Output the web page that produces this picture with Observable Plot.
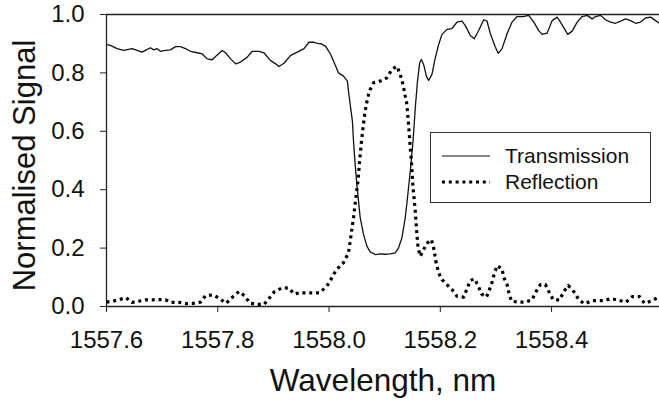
<!DOCTYPE html>
<html>
<head>
<meta charset="utf-8">
<script src="https://cdn.jsdelivr.net/npm/d3@7"></script>
<script src="https://cdn.jsdelivr.net/npm/@observablehq/plot@0.6"></script>
<style>
  html, body { margin: 0; padding: 0; background: #fff; }
  #wrap { position: relative; width: 659px; height: 406px; overflow: hidden; font-family: 'Liberation Sans', Arial, sans-serif; color: #111; }
  #legend { position: absolute; left: 430px; top: 132px; width: 221px; height: 71px; border: 1.3px solid #333; box-sizing: border-box; background: #fff; }
  #legend .row { position: absolute; left: 0; height: 24px; display: flex; align-items: center; font-size: 21px; }
  #legend svg { margin-left: 11px; margin-right: 15px; }
</style>
</head>
<body>
<div id="wrap"></div>
<script>
// Transmission curve (wavelength nm, normalised signal)
const wavelengthT = [1557.600,1557.607,1557.619,1557.631,1557.646,1557.655,1557.664,1557.670,1557.679,1557.685,1557.691,1557.697,1557.706,1557.715,1557.724,1557.733,1557.742,1557.751,1557.763,1557.772,1557.781,1557.790,1557.796,1557.808,1557.814,1557.823,1557.832,1557.841,1557.853,1557.862,1557.874,1557.883,1557.895,1557.904,1557.910,1557.919,1557.931,1557.943,1557.955,1557.964,1557.973,1557.979,1557.985,1557.994,1558.003,1558.012,1558.017,1558.026,1558.033,1558.035,1558.038,1558.042,1558.044,1558.047,1558.050,1558.053,1558.056,1558.062,1558.068,1558.074,1558.083,1558.092,1558.101,1558.110,1558.119,1558.125,1558.131,1558.137,1558.141,1558.146,1558.151,1558.155,1558.159,1558.163,1558.166,1558.170,1558.175,1558.179,1558.185,1558.191,1558.197,1558.203,1558.212,1558.221,1558.230,1558.239,1558.245,1558.254,1558.261,1558.269,1558.278,1558.284,1558.290,1558.299,1558.304,1558.311,1558.320,1558.329,1558.338,1558.349,1558.359,1558.368,1558.377,1558.383,1558.392,1558.401,1558.410,1558.416,1558.425,1558.429,1558.437,1558.446,1558.455,1558.464,1558.473,1558.479,1558.488,1558.497,1558.506,1558.515,1558.524,1558.533,1558.542,1558.551,1558.560,1558.569,1558.578,1558.587,1558.594];
const transmission = [0.897,0.894,0.883,0.877,0.883,0.877,0.871,0.877,0.886,0.879,0.883,0.874,0.877,0.879,0.890,0.890,0.883,0.874,0.869,0.865,0.848,0.845,0.856,0.877,0.869,0.848,0.831,0.837,0.854,0.874,0.874,0.869,0.842,0.831,0.822,0.833,0.860,0.871,0.883,0.905,0.905,0.901,0.900,0.891,0.863,0.823,0.800,0.789,0.772,0.737,0.692,0.635,0.566,0.486,0.418,0.361,0.304,0.247,0.207,0.187,0.178,0.180,0.179,0.180,0.184,0.201,0.235,0.304,0.372,0.463,0.566,0.680,0.772,0.835,0.846,0.829,0.789,0.774,0.795,0.852,0.897,0.932,0.949,0.952,0.974,0.977,0.962,0.928,0.917,0.945,0.982,0.977,0.934,0.888,0.867,0.883,0.934,0.974,0.993,0.993,0.997,0.974,0.945,0.932,0.936,0.979,0.991,0.974,0.945,0.932,0.943,0.974,0.993,0.997,0.985,0.993,0.997,0.982,0.974,0.970,0.977,0.985,0.979,0.970,0.974,0.988,0.991,0.979,0.970];

// Reflection curve
const wavelengthR = [1557.600,1557.611,1557.623,1557.635,1557.646,1557.658,1557.671,1557.684,1557.697,1557.706,1557.716,1557.731,1557.743,1557.757,1557.769,1557.778,1557.792,1557.804,1557.815,1557.828,1557.838,1557.848,1557.858,1557.871,1557.883,1557.892,1557.902,1557.916,1557.928,1557.937,1557.949,1557.967,1557.983,1557.994,1558.001,1558.008,1558.017,1558.026,1558.035,1558.038,1558.044,1558.049,1558.052,1558.056,1558.059,1558.064,1558.067,1558.071,1558.074,1558.080,1558.092,1558.104,1558.113,1558.122,1558.128,1558.133,1558.137,1558.140,1558.143,1558.146,1558.148,1558.151,1558.155,1558.158,1558.160,1558.164,1558.170,1558.177,1558.184,1558.188,1558.192,1558.197,1558.203,1558.212,1558.221,1558.230,1558.242,1558.248,1558.254,1558.261,1558.268,1558.274,1558.283,1558.289,1558.293,1558.297,1558.302,1558.311,1558.314,1558.320,1558.323,1558.328,1558.341,1558.353,1558.365,1558.372,1558.380,1558.389,1558.395,1558.403,1558.415,1558.421,1558.430,1558.440,1558.449,1558.459,1558.473,1558.484,1558.495,1558.507,1558.521,1558.534,1558.545,1558.558,1558.567,1558.581,1558.591,1558.594];
const reflection = [0.015,0.018,0.024,0.030,0.014,0.018,0.023,0.023,0.024,0.023,0.014,0.014,0.010,0.011,0.015,0.037,0.040,0.026,0.011,0.035,0.051,0.037,0.011,0.007,0.007,0.027,0.051,0.064,0.063,0.043,0.047,0.047,0.047,0.066,0.083,0.110,0.133,0.150,0.184,0.224,0.304,0.384,0.429,0.521,0.578,0.658,0.692,0.726,0.743,0.766,0.772,0.783,0.812,0.823,0.795,0.760,0.720,0.692,0.623,0.543,0.498,0.407,0.326,0.247,0.201,0.172,0.195,0.218,0.229,0.201,0.155,0.115,0.092,0.075,0.058,0.035,0.032,0.061,0.089,0.095,0.072,0.043,0.032,0.061,0.083,0.112,0.140,0.129,0.100,0.075,0.049,0.018,0.015,0.015,0.023,0.051,0.075,0.075,0.051,0.023,0.023,0.049,0.072,0.051,0.023,0.009,0.020,0.020,0.020,0.027,0.021,0.015,0.034,0.034,0.011,0.020,0.031,0.028];

const xDomain = [1557.6, 1558.594];
const yDomain = [0, 1];
const xTicks = [1557.6, 1557.8, 1558.0, 1558.2, 1558.4];
const yTicks = [0, 0.2, 0.4, 0.6, 0.8, 1.0];
const seriesNames = ["Transmission", "Reflection"];
const xLabel = "Wavelength, nm";
const yLabel = "Normalised Signal";

const tData = wavelengthT.map((w, i) => ({w, v: transmission[i]}));
const rData = wavelengthR.map((w, i) => ({w, v: reflection[i]}));

const chart = Plot.plot({
  width: 659,
  height: 406,
  marginLeft: 106,
  marginRight: 0,
  marginTop: 14,
  marginBottom: 100,
  style: {fontFamily: "'Liberation Sans', Arial, sans-serif", fontSize: "24px", color: "#111", background: "white", overflow: "visible"},
  x: {domain: xDomain},
  y: {domain: yDomain},
  marks: [
    Plot.axisX({ticks: xTicks, tickFormat: d => d.toFixed(1), tickSize: 6, tickPadding: 18, fontSize: 24, label: null, stroke: "#222"}),
    Plot.axisY({ticks: yTicks, tickFormat: d => d.toFixed(1), tickSize: 6, tickPadding: 16, fontSize: 24, label: null, stroke: "#222"}),
    Plot.ruleY(yDomain, {stroke: "#222", strokeWidth: 1.3}),
    Plot.ruleX([xDomain[0]], {stroke: "#222", strokeWidth: 1.3}),
    Plot.line(tData, {x: "w", y: "v", stroke: "#111", strokeWidth: 1.3}),
    Plot.line(rData, {x: "w", y: "v", stroke: "#000", strokeWidth: 3.2, strokeDasharray: "3,3.8", strokeLinecap: "butt"}),
    Plot.text([xLabel], {frameAnchor: "bottom", dy: 84, fontSize: 31.5, fill: "#111"}),
    Plot.text([yLabel], {frameAnchor: "left", textAnchor: "middle", rotate: -90, dx: -81, dy: 5, fontSize: 31, fill: "#111"})
  ]
});

const wrap = document.getElementById("wrap");
wrap.appendChild(chart);

const legend = document.createElement("div");
legend.id = "legend";
legend.innerHTML = `
  <div class="row" style="top:11px"><svg width="48" height="6"><line x1="0" y1="3" x2="48" y2="3" stroke="#111" stroke-width="1.2"/></svg><span>${seriesNames[0]}</span></div>
  <div class="row" style="top:37px"><svg width="48" height="6"><line x1="0" y1="3" x2="48" y2="3" stroke="#000" stroke-width="3.2" stroke-dasharray="3,3.8"/></svg><span>${seriesNames[1]}</span></div>`;
wrap.appendChild(legend);
</script>
</body>
</html>
